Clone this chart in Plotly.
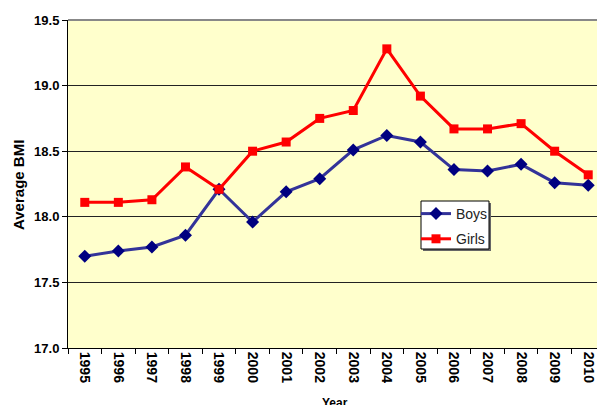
import plotly.graph_objects as go

years = ["1995", "1996", "1997", "1998", "1999", "2000", "2001", "2002",
         "2003", "2004", "2005", "2006", "2007", "2008", "2009", "2010"]
boys = [17.70, 17.74, 17.77, 17.86, 18.21, 17.96, 18.19, 18.29,
        18.51, 18.62, 18.57, 18.36, 18.35, 18.40, 18.26, 18.24]
girls = [18.11, 18.11, 18.13, 18.38, 18.21, 18.50, 18.57, 18.75,
         18.81, 19.28, 18.92, 18.67, 18.67, 18.71, 18.50, 18.32]
y_ticks = [17.0, 17.5, 18.0, 18.5, 19.0, 19.5]

font_family = "Liberation Sans, Arial, sans-serif"

OFF = 8          # page body margin in the browser
L, T, B = 68, 20, 348   # plot area edges in page pixels
R = 605
W, H = R - L, B - T     # plot area size in pixels

fig = go.Figure()
fig.add_trace(go.Scatter(
    x=years, y=boys, name="Boys", mode="lines+markers", legendgroup="b",
    line=dict(color="#333399", width=3),
    marker=dict(symbol="diamond", size=10, color="#000080"),
))
fig.add_trace(go.Scatter(
    x=years, y=girls, name="Girls", mode="lines+markers", legendgroup="g",
    line=dict(color="#FF0000", width=3),
    marker=dict(symbol="square", size=9, color="#FF0000"),
))

fig.update_layout(
    width=605 - OFF, height=405 - OFF,
    margin=dict(l=L - OFF, r=0, t=T - OFF, b=405 - B, autoexpand=False),
    paper_bgcolor="white",
    plot_bgcolor="#FFFFCC",
    font=dict(family=font_family, color="black"),
    showlegend=True,
    legend=dict(
        x=(416 - L) / W, y=(B - 198) / H, xanchor="left", yanchor="top",
        bgcolor="rgba(0,0,0,0)", borderwidth=0,
        font=dict(size=14, family=font_family, color="#222"),
        tracegroupgap=4, itemwidth=30,
    ),
    xaxis=dict(
        type="category", range=[-0.5, 15.5], automargin=False,
        showgrid=False, showline=True, linecolor="black", linewidth=1,
        ticks="outside", ticklen=5, tickcolor="black", tickson="boundaries",
        tickangle=90,
        tickfont=dict(size=14, family=font_family, weight="bold"),
    ),
    yaxis=dict(
        range=[17.0, 19.5], tickvals=y_ticks, automargin=False,
        ticktext=[f"{v:.1f}" for v in y_ticks],
        showgrid=True, gridcolor="#222", gridwidth=1,
        showline=True, linecolor="black", linewidth=1,
        ticks="outside", ticklen=5, tickcolor="black",
        tickfont=dict(size=13, family=font_family, weight="bold"),
        zeroline=False,
    ),
)

fig.add_annotation(text="<b>Average BMI</b>", x=(18 - L) / W, y=(B - 185) / H,
                   xref="paper", yref="paper", showarrow=False, textangle=-90,
                   xanchor="center", yanchor="middle", font=dict(size=15))
fig.add_annotation(text="<b>Year</b>", x=(335 - L) / W, y=(B - 403) / H,
                   xref="paper", yref="paper", showarrow=False,
                   xanchor="center", yanchor="middle", font=dict(size=12))

# top border of plot area
fig.add_shape(type="line", xref="paper", yref="paper", x0=0, x1=1, y0=1, y1=1,
              line=dict(color="#888", width=2))
# legend box shadow and box
fig.add_shape(type="rect", xref="paper", yref="paper",
              x0=(423 - L) / W, x1=(491 - L) / W,
              y0=(B - 251) / H, y1=(B - 203) / H,
              line=dict(width=0), fillcolor="#666", layer="above")
fig.add_shape(type="rect", xref="paper", yref="paper",
              x0=(421 - L) / W, x1=(489 - L) / W,
              y0=(B - 249) / H, y1=(B - 201) / H,
              line=dict(width=1, color="black"), fillcolor="white", layer="above")

fig.write_html("out.html")
